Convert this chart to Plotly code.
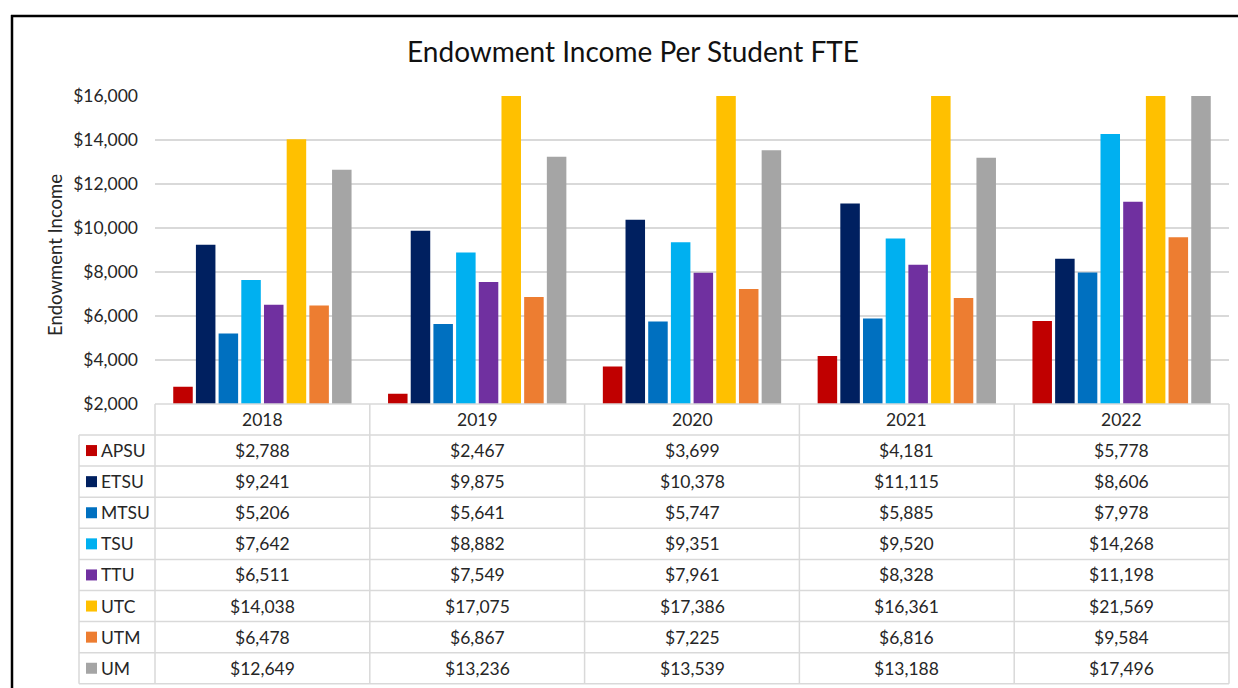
import plotly.graph_objects as go

years = ["2018", "2019", "2020", "2021", "2022"]
schools = ["APSU", "ETSU", "MTSU", "TSU", "TTU", "UTC", "UTM", "UM"]
apsu = [2788, 2467, 3699, 4181, 5778]
etsu = [9241, 9875, 10378, 11115, 8606]
mtsu = [5206, 5641, 5747, 5885, 7978]
tsu = [7642, 8882, 9351, 9520, 14268]
ttu = [6511, 7549, 7961, 8328, 11198]
utc = [14038, 17075, 17386, 16361, 21569]
utm = [6478, 6867, 7225, 6816, 9584]
um = [12649, 13236, 13539, 13188, 17496]
series = [apsu, etsu, mtsu, tsu, ttu, utc, utm, um]
colors = ["#C00000", "#002060", "#0070C0", "#00B0F0", "#7030A0", "#FFC000", "#ED7D31", "#A5A5A5"]

W, H = 1238, 688
L, R, T, B = 155, 9, 96, 284
PW = W - L - R
PH = H - T - B
FONT = "Lato, Carlito, Calibri, sans-serif"
TXT = "#262626"
GRID = "#d9d9d9"
FS = 17.5


def px(x):
    return (x - L) / PW


def py(y):
    return (H - B - y) / PH


fig = go.Figure()
for name, vals, col in zip(schools, series, colors):
    fig.add_trace(go.Bar(x=years, y=vals, name=name, marker_color=col,
                         marker_line_width=0, showlegend=False))

shapes = []
annotations = []

n = len(years)


def colx(i):
    return (i + 0.5) / n


# table geometry
tbl_left = 79
tbl_top = H - B
hdr_h = 31
row_h = 31.1
tbl_bottom = tbl_top + hdr_h + row_h * len(schools)
line = dict(color=GRID, width=1.5)

# horizontal lines
shapes.append(dict(type="line", xref="paper", yref="paper", x0=0, x1=1, y0=py(tbl_top), y1=py(tbl_top), line=line))
for i in range(len(schools) + 1):
    yy = tbl_top + hdr_h + i * row_h
    shapes.append(dict(type="line", xref="paper", yref="paper", x0=px(tbl_left), x1=1,
                       y0=py(yy), y1=py(yy), line=line))
# vertical lines
shapes.append(dict(type="line", xref="paper", yref="paper", x0=px(tbl_left), x1=px(tbl_left),
                   y0=py(tbl_top + hdr_h), y1=py(tbl_bottom), line=line))
for k in range(n + 1):
    xx = k / n
    shapes.append(dict(type="line", xref="paper", yref="paper", x0=xx, x1=xx,
                       y0=py(tbl_top), y1=py(tbl_bottom), line=line))

# header
for j, yr in enumerate(years):
    annotations.append(dict(x=colx(j), xref="paper", yref="paper", y=py(tbl_top + hdr_h / 2), text=yr,
                            xanchor="center", yanchor="middle",
                            showarrow=False, font=dict(family=FONT, size=FS, color=TXT)))
# rows
for i, (name, vals, col) in enumerate(zip(schools, series, colors)):
    cy = tbl_top + hdr_h + row_h * (i + 0.5)
    shapes.append(dict(type="rect", xref="paper", yref="paper", x0=px(86), x1=px(97),
                       y0=py(cy + 5.5), y1=py(cy - 5.5), fillcolor=col, line=dict(width=0)))
    annotations.append(dict(x=px(99), xref="paper", yref="paper", y=py(cy), text=name,
                            xanchor="left", yanchor="middle",
                            showarrow=False, font=dict(family=FONT, size=FS, color=TXT)))
    for j, v in enumerate(vals):
        annotations.append(dict(x=colx(j), xref="paper", yref="paper", y=py(cy), text="${:,}".format(v),
                                xanchor="center", yanchor="middle",
                                showarrow=False, font=dict(family=FONT, size=FS, color=TXT)))

# outer black border (top and left)
shapes.append(dict(type="line", xref="paper", yref="paper", x0=px(11), x1=px(W + 5), y0=py(16), y1=py(16),
                   line=dict(color="black", width=2.5)))
shapes.append(dict(type="line", xref="paper", yref="paper", x0=px(12), x1=px(12), y0=py(15), y1=py(H + 5),
                   line=dict(color="black", width=2.5)))

# y axis title
annotations.append(dict(x=px(55), xref="paper", yref="paper", y=py(255), text="Endowment Income", textangle=-90,
                        xanchor="center", yanchor="middle",
                        showarrow=False, font=dict(family=FONT, size=18.5, color=TXT)))

fig.update_layout(
    width=W, height=H,
    margin=dict(l=L, r=R, t=T, b=B),
    paper_bgcolor="white", plot_bgcolor="white",
    barmode="group", bargap=0.155, bargroupgap=0.14,
    title=dict(text="Endowment Income Per Student FTE", x=633 / W, xanchor="center",
               y=1 - 52 / H, yanchor="middle",
               font=dict(family=FONT, size=28, color="#111111")),
    xaxis=dict(type="category", range=[-0.5, n - 0.5], showticklabels=False, showgrid=False,
               showline=False, zeroline=False, ticks=""),
    yaxis=dict(range=[2000, 16000], dtick=2000, tickprefix="$", tickformat=",",
               showgrid=True, gridcolor=GRID, gridwidth=1.5, zeroline=False, showline=False,
               ticks="", ticklabelstandoff=16,
               tickfont=dict(family=FONT, size=FS, color=TXT)),
    shapes=shapes,
    annotations=annotations,
)

fig.write_html("out.html", config={"displayModeBar": False},
               post_script="document.body.style.margin='0';")
